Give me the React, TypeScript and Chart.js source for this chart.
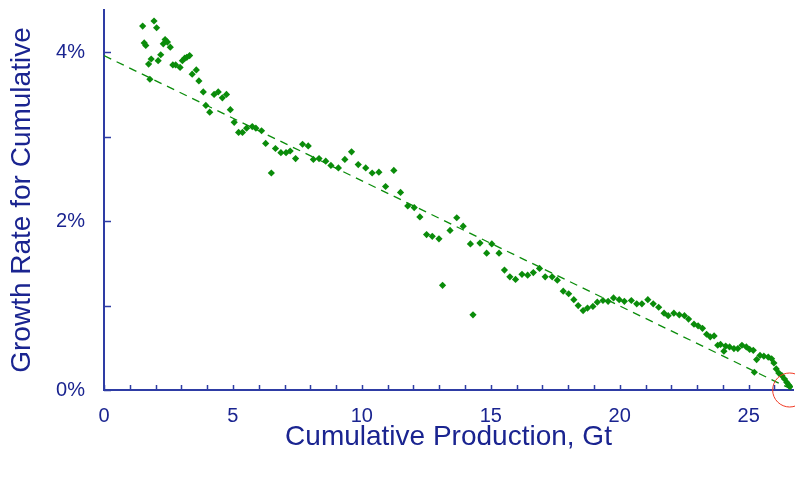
import React, { useEffect, useRef } from 'react';
import { Chart, registerables } from 'chart.js';

Chart.register(...registerables);

// Cumulative production (Gt) for each year
const cumulativeGt = [
  1.50, 1.56, 1.62, 1.73, 1.78, 1.83, 1.94, 2.04, 2.10, 2.20,
  2.30, 2.37, 2.46, 2.57, 2.67, 2.78, 2.95, 3.04, 3.13, 3.21,
  3.32, 3.42, 3.58, 3.68, 3.85, 3.95, 4.10, 4.27, 4.43, 4.59,
  4.75, 4.90, 5.05, 5.22, 5.37, 5.53, 5.75, 5.89, 6.11, 6.27,
  6.49, 6.65, 6.86, 7.06, 7.22, 7.43, 7.70, 7.92, 8.12, 8.34,
  8.60, 8.80, 9.09, 9.34, 9.60, 9.86, 10.15, 10.40, 10.66, 10.92,
  11.24, 11.50, 11.78, 12.03, 12.25, 12.51, 12.73, 12.99, 13.13, 13.42,
  13.68, 13.93, 14.21, 14.31, 14.58, 14.84, 15.04, 15.32, 15.53, 15.74,
  15.96, 16.21, 16.43, 16.65, 16.89, 17.11, 17.38, 17.58, 17.81, 18.02,
  18.22, 18.39, 18.58, 18.75, 18.96, 19.13, 19.35, 19.55, 19.76, 19.98,
  20.18, 20.45, 20.66, 20.86, 21.09, 21.30, 21.51, 21.72, 21.88, 22.10,
  22.31, 22.51, 22.67, 22.88, 23.04, 23.21, 23.37, 23.51, 23.66, 23.80,
  23.91, 24.04, 24.11, 24.26, 24.43, 24.58, 24.74, 24.91, 25.04, 25.18,
  25.22, 25.31, 25.44, 25.59, 25.76, 25.89, 25.98, 26.07, 26.17, 26.29,
  26.39, 26.48, 26.55, 26.60,
];

// Growth rate of cumulative production (%)
const growthPct = [
  4.31, 4.11, 4.08, 3.86, 3.68, 3.92, 4.37, 4.29, 3.90, 3.97,
  4.10, 4.15, 4.12, 4.06, 3.85, 3.85, 3.82, 3.90, 3.93, 3.94,
  3.96, 3.74, 3.79, 3.66, 3.53, 3.37, 3.29, 3.50, 3.53, 3.46,
  3.50, 3.32, 3.17, 3.05, 3.05, 3.10, 3.12, 3.10, 3.07, 2.92,
  2.57, 2.86, 2.81, 2.81, 2.83, 2.74, 2.91, 2.89, 2.73, 2.74,
  2.71, 2.66, 2.63, 2.73, 2.82, 2.67, 2.63, 2.57, 2.58, 2.41,
  2.60, 2.34, 2.18, 2.16, 2.05, 1.84, 1.82, 1.79, 1.24, 1.89,
  2.04, 1.94, 1.73, 0.89, 1.74, 1.62, 1.73, 1.62, 1.42, 1.34,
  1.31, 1.37, 1.36, 1.39, 1.44, 1.34, 1.34, 1.30, 1.17, 1.14,
  1.07, 1.00, 0.94, 0.97, 0.99, 1.04, 1.06, 1.05, 1.09, 1.07,
  1.05, 1.06, 1.02, 1.02, 1.07, 1.02, 0.98, 0.91, 0.88, 0.91,
  0.89, 0.88, 0.84, 0.78, 0.76, 0.73, 0.66, 0.63, 0.64, 0.53,
  0.54, 0.46, 0.52, 0.51, 0.49, 0.49, 0.53, 0.51, 0.48, 0.47,
  0.21, 0.36, 0.41, 0.40, 0.39, 0.37, 0.32, 0.25, 0.20, 0.17,
  0.13, 0.09, 0.06, 0.04,
];

// Linear trend (dashed line)
const trendX = [0, 26.72];
const trendY = [3.96, 0.0];

// Highlighted end point (red circle)
const highlightX = [26.59];
const highlightY = [0];

const xTickLabels = ['0', '5', '10', '15', '20', '25'];
const yTickLabels = ['0%', '2%', '4%'];

const TEXT = '#1a2490';
const AXIS = '#2e3ca4';
const GREEN = '#0a8c0a';
const FONT = "'Liberation Sans', Arial, sans-serif";

const innerTicks = {
  id: 'innerTicks',
  afterDatasetsDraw(chart: any) {
    const { ctx, chartArea, scales } = chart;
    ctx.save();
    ctx.strokeStyle = AXIS;
    ctx.lineWidth = 1.5;
    ctx.beginPath();
    scales.x.ticks.forEach((t: any) => {
      const px = Math.round(scales.x.getPixelForValue(t.value)) + 0.5;
      ctx.moveTo(px, chartArea.bottom);
      ctx.lineTo(px, chartArea.bottom - 5);
    });
    scales.y.ticks.forEach((t: any) => {
      const py = Math.round(scales.y.getPixelForValue(t.value)) + 0.5;
      ctx.moveTo(chartArea.left, py);
      ctx.lineTo(chartArea.left + 7, py);
    });
    ctx.stroke();
    ctx.restore();
  },
};

export default function App() {
  const ref = useRef<HTMLCanvasElement | null>(null);

  useEffect(() => {
    document.body.style.margin = '0';
    const canvas = ref.current;
    if (!canvas) return;
    const points = cumulativeGt.map((x, i) => ({ x, y: growthPct[i] }));
    const trend = trendX.map((x, i) => ({ x, y: trendY[i] }));
    const highlight = highlightX.map((x, i) => ({ x, y: highlightY[i] }));

    const chart = new Chart(canvas, {
      type: 'scatter',
      data: {
        datasets: [
          {
            label: 'highlight',
            data: highlight,
            pointStyle: 'circle',
            pointRadius: 17,
            pointHoverRadius: 17,
            backgroundColor: 'rgba(0,0,0,0)',
            borderColor: '#f03a24',
            pointBorderWidth: 1,
            clip: false as any,
          },
          {
            label: 'growth',
            data: points,
            pointStyle: 'rectRot',
            pointRadius: 3.6,
            backgroundColor: GREEN,
            borderColor: GREEN,
            pointBorderWidth: 0,
          },
          {
            label: 'trend',
            data: trend,
            showLine: true,
            pointRadius: 0,
            borderColor: GREEN,
            borderWidth: 1.3,
            borderDash: [8, 6],
            fill: false,
          },
        ],
      },
      options: {
        animation: false,
        responsive: false,
        maintainAspectRatio: false,
        layout: { autoPadding: false, padding: { top: 10, right: 2, left: 0, bottom: 0 } },
        plugins: {
          legend: { display: false },
          tooltip: { enabled: false },
        },
        scales: {
          x: {
            type: 'linear',
            min: 0,
            max: 26.72,
            afterFit: (s: any) => {
              s.height = 93;
              s.paddingLeft = 0;
              s.paddingRight = 0;
            },
            grid: { display: true, drawOnChartArea: false, drawTicks: false },
            border: { display: true, color: AXIS, width: 2 },
            ticks: {
              stepSize: 1,
              includeBounds: false,
              autoSkip: false,
              maxRotation: 0,
              padding: 14,
              color: TEXT,
              font: { family: FONT, size: 20 },
              callback: (v: any) => (xTickLabels.includes(String(v)) ? String(v) : ''),
            },
            title: {
              display: true,
              text: 'Cumulative Production, Gt',
              color: TEXT,
              font: { family: FONT, size: 28 },
              padding: { top: 0, bottom: 29 },
            },
          },
          y: {
            type: 'linear',
            min: 0,
            max: 4.5,
            afterFit: (s: any) => {
              s.width = 104;
              s.paddingTop = 0;
              s.paddingBottom = 0;
            },
            grid: { display: true, drawOnChartArea: false, drawTicks: false },
            border: { display: true, color: AXIS, width: 2 },
            ticks: {
              stepSize: 1,
              includeBounds: false,
              autoSkip: false,
              padding: 19,
              color: TEXT,
              font: { family: FONT, size: 20 },
              callback: (v: any) => (yTickLabels.includes(`${v}%`) ? `${v}%` : ''),
            },
            title: {
              display: true,
              text: 'Growth Rate for Cumulative',
              color: TEXT,
              font: { family: FONT, size: 28 },
              padding: { top: 5, bottom: 0 },
            },
          },
        },
      },
      plugins: [innerTicks],
    });
    return () => chart.destroy();
  }, []);

  return (
    <div style={{ width: 795, height: 483 }}>
      <canvas ref={ref} width={795} height={483} style={{ display: 'block' }} />
    </div>
  );
}
